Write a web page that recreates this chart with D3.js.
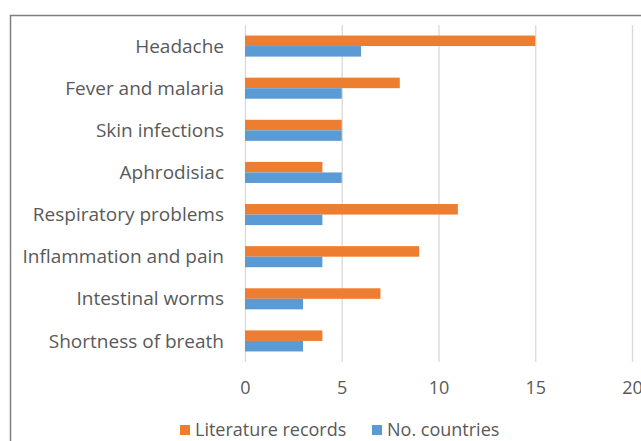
<!DOCTYPE html>
<html><head><meta charset="utf-8">
<script src="https://cdn.jsdelivr.net/npm/d3@7"></script>
<style>body{margin:0;background:#fff}svg{display:block}</style>
</head><body>
<script>
const categories = ["Headache","Fever and malaria","Skin infections","Aphrodisiac","Respiratory problems","Inflammation and pain","Intestinal worms","Shortness of breath"];
const literatureRecords = [15,8,5,4,11,9,7,4];
const noCountries = [6,5,5,5,4,4,3,3];
const seriesNames = ["Literature records","No. countries"];
const seriesColors = ["#ED7D31","#5B9BD5"];
const xTicks = [0,5,10,15,20];

const W=641,H=441;
const svg=d3.select("body").append("svg").attr("width",W).attr("height",H);
const font="'Open Sans', sans-serif";
svg.append("rect").attr("x",10.5).attr("y",15.5).attr("width",700).attr("height",500)
  .attr("fill","#fff").attr("stroke","#7f7f7f").attr("stroke-width",1.5);

const x=d3.scaleLinear().domain([0,20]).range([245,632]);
const y=d3.scaleBand().domain(categories).range([25,362]).paddingInner(0.5).paddingOuter(0.25);
const ys=d3.scaleBand().domain(seriesNames).range([0,y.bandwidth()]);

const g=svg.append("g");
g.selectAll("line.grid").data(xTicks).join("line").attr("class","grid")
  .attr("x1",d=>x(d)+0.5).attr("x2",d=>x(d)+0.5).attr("y1",25).attr("y2",362)
  .attr("stroke","#d9d9d9").attr("stroke-width",1.3);

const data=categories.map((c,i)=>({c,vals:[literatureRecords[i],noCountries[i]]}));
const rows=g.selectAll("g.row").data(data).join("g").attr("transform",d=>`translate(0,${y(d.c)})`);
rows.selectAll("rect").data(d=>d.vals.map((v,j)=>({v,s:seriesNames[j],col:seriesColors[j]}))).join("rect")
  .attr("x",x(0)).attr("y",d=>ys(d.s)).attr("width",d=>x(d.v)-x(0)).attr("height",ys.bandwidth())
  .attr("fill",d=>d.col);

// category labels
g.selectAll("text.cat").data(categories).join("text").attr("class","cat")
  .attr("x",224).attr("y",d=>y(d)+y.bandwidth()/2).attr("dy","0.35em")
  .attr("text-anchor","end").attr("font-family",font).attr("font-size",19).attr("fill","#595959").text(d=>d);

// x axis
const xa=svg.append("g").attr("transform","translate(0,388)")
  .call(d3.axisBottom(x).tickValues(xTicks).tickSize(0).tickPadding(0));
xa.select(".domain").remove();
xa.selectAll("text").attr("font-family",font).attr("font-size",18).attr("fill","#595959").attr("dy","0.35em");

// legend
const leg=svg.append("g");
const legX=[180,372];
seriesNames.forEach((s,i)=>{
  leg.append("rect").attr("x",legX[i]).attr("y",425).attr("width",10).attr("height",10).attr("fill",seriesColors[i]);
  leg.append("text").attr("x",legX[i]+15).attr("y",430).attr("dy","0.35em").attr("font-family",font)
    .attr("font-size",18).attr("fill","#595959").text(s);
});
</script>
</body></html>
